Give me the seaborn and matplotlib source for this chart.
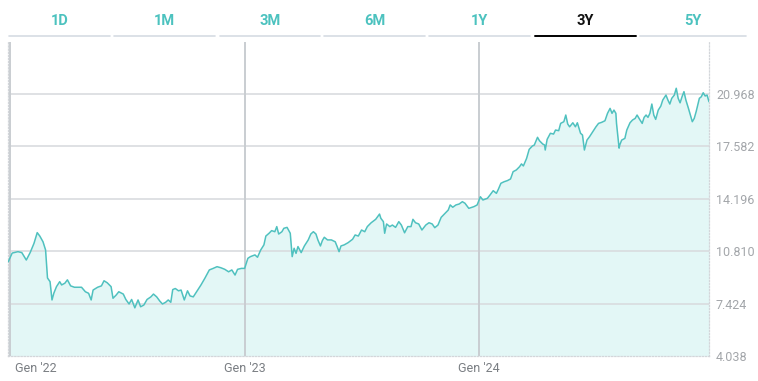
import numpy as np
import pandas as pd
import seaborn as sns
import matplotlib.pyplot as plt
from matplotlib.transforms import ScaledTranslation

# days since 2022-01-01 for each sampled point
days_since_2022 = [
    -3, 3, 12, 18, 25, 31, 37, 42, 46, 51, 55, 58, 62, 65, 68, 72, 77, 80, 85, 89,
    94, 100, 106, 111, 117, 122, 126, 129, 136, 142, 146, 151, 157, 160, 165, 169, 176, 180, 185, 189,
    194, 199, 203, 208, 213, 219, 223, 228, 233, 237, 242, 246, 250, 253, 257, 262, 266, 271, 276, 280,
    285, 291, 297, 303, 310, 316, 322, 328, 334, 340, 345, 350, 354, 360,
    365, 370, 374, 381, 385, 390, 395, 398, 403, 407, 412, 415, 418, 423, 426, 431, 436, 439, 442, 445,
    448, 453, 458, 464, 468, 472, 476, 479, 483, 486, 489, 494, 500, 506, 509, 512, 515, 520, 526, 533,
    537, 542, 547, 552, 556, 562, 569, 575, 577, 581, 583, 586, 591, 595, 600, 605, 609, 614, 619, 624,
    627, 631, 636, 641, 647, 652, 657, 661, 666, 671, 677, 682, 685, 689, 694, 699, 704, 708,
    714, 722, 727, 732, 736, 743, 747, 752, 757, 760, 764, 769, 774, 779, 783, 788, 793, 796, 799, 804,
    808, 813, 816, 821, 824, 829, 832, 833, 836, 841, 846, 849, 854, 857, 862, 865, 868, 871, 876, 880,
    883, 888, 891, 894, 898, 902, 907, 912, 916, 921, 926, 930, 934, 937, 940, 943, 944, 948, 949, 952,
    957, 960, 965, 969, 973, 976, 980, 984, 987, 990, 993, 996, 999, 1002, 1005, 1009, 1013, 1016, 1021, 1024,
    1027, 1030, 1034, 1037, 1040, 1043, 1046, 1049, 1052, 1056, 1059, 1062, 1065, 1068, 1073, 1076, 1079, 1082, 1085, 1088,
]

prices = [
    10.13, 10.69, 10.78, 10.72, 10.24, 10.72, 11.32, 12.01, 11.79, 11.42, 10.89, 9.08, 8.84, 7.66, 8.11, 8.52, 8.84, 8.63, 8.74, 8.96,
    8.57, 8.48, 8.48, 8.48, 8.19, 8.09, 7.66, 8.30, 8.48, 8.57, 8.90, 8.77, 8.52, 7.77, 7.98, 8.19, 8.04, 7.69, 7.40, 7.69,
    7.15, 7.66, 7.22, 7.33, 7.69, 7.86, 8.04, 7.86, 7.58, 7.40, 7.51, 7.66, 7.51, 8.33, 8.40, 8.25, 8.30, 7.66, 8.25, 7.92,
    7.86, 8.25, 8.63, 9.06, 9.60, 9.70, 9.81, 9.74, 9.64, 9.48, 9.60, 9.27, 9.64, 9.70,
    9.70, 10.35, 10.46, 10.57, 10.42, 10.89, 11.22, 11.79, 11.97, 12.14, 12.07, 12.40, 11.92, 12.07, 12.29, 12.35, 11.97, 10.46, 11.00, 10.67,
    11.11, 10.72, 11.15, 11.54, 11.92, 12.07, 11.92, 11.54, 11.15, 11.50, 11.71, 11.54, 11.54, 11.42, 11.11, 10.78, 11.15, 11.22, 11.36, 11.58,
    11.86, 11.79, 12.18, 12.07, 12.40, 12.65, 12.87, 13.21, 12.94, 12.72, 11.97, 12.57, 12.40, 12.50, 12.35, 12.72, 12.50, 12.00, 12.40, 12.40,
    12.87, 12.65, 12.57, 12.18, 12.50, 12.65, 12.57, 12.33, 12.50, 13.00, 13.26, 13.47, 13.80, 13.65, 13.80, 13.86, 14.01, 13.91,
    13.58, 13.69, 13.80, 14.33, 14.12, 14.23, 14.44, 14.72, 14.55, 14.81, 15.20, 15.30, 15.37, 15.48, 15.95, 16.06, 16.27, 16.45, 16.32, 16.81,
    17.39, 17.61, 17.67, 18.17, 17.95, 17.74, 17.67, 17.35, 18.04, 18.43, 18.38, 18.64, 18.60, 19.07, 19.18, 19.61, 19.03, 18.85, 19.11, 18.85,
    19.11, 18.43, 18.32, 17.35, 17.99, 18.21, 18.53, 18.85, 19.07, 19.14, 19.24, 19.72, 20.04, 19.72, 19.93, 19.72, 19.07, 17.47, 17.67, 17.99,
    18.10, 18.64, 19.11, 19.29, 19.39, 19.61, 19.33, 19.07, 19.46, 19.61, 19.46, 19.72, 20.32, 19.61, 19.33, 19.93, 20.19, 20.58, 20.90, 20.58,
    20.32, 20.69, 20.90, 21.34, 20.69, 20.40, 20.79, 21.12, 20.58, 20.04, 19.61, 19.18, 19.39, 19.83, 20.69, 20.79, 21.05, 20.84, 20.90, 20.47,
]

y_ticks = [4.038, 7.424, 10.810, 14.196, 17.582, 20.968]
y_top = 24.33
year_starts = ["2022-01-01", "2023-01-01", "2024-01-01"]
year_labels = ["Gen '22", "Gen '23", "Gen '24"]
tabs = ["1D", "1M", "3M", "6M", "1Y", "3Y", "5Y"]
active_tab = "3Y"

LINE = "#4fc1bf"
FILL = "#e3f7f6"
TEAL_TXT = "#4cc2bf"

df = pd.DataFrame({
    "date": pd.Timestamp("2022-01-01") + pd.to_timedelta(days_since_2022, unit="D"),
    "price": prices,
})

sns.set_style("white")
plt.rcParams["font.family"] = ["Roboto", "DejaVu Sans"]

fig = plt.figure(figsize=(7.58, 3.81), dpi=100)
ax = fig.add_axes([8 / 758, 25 / 381, 701 / 758, 314 / 381])

ax.fill_between(df["date"], df["price"], 4.038, color=FILL, linewidth=0, zorder=1)
sns.lineplot(data=df, x="date", y="price", ax=ax, color=LINE, linewidth=1.1, zorder=3)

ax.set_xlim(df["date"].iloc[0] - pd.Timedelta(days=0.5), df["date"].iloc[-1])
ax.set_ylim(4.038, y_top)

# horizontal grid
for v in y_ticks[1:]:
    ax.axhline(v, color="#d9dcdf", linewidth=1.2, zorder=2)

# year separators
year_dates = pd.to_datetime(year_starts)
for d in year_dates:
    ax.axvline(d, color="#c9cdd1", linewidth=1.4, zorder=2)

# borders: dotted light grey
for side in ["left", "right", "bottom"]:
    ax.spines[side].set_visible(True)
    ax.spines[side].set_color("#d3d6da")
    ax.spines[side].set_linestyle((0, (1, 1.5)))
    ax.spines[side].set_linewidth(0.9)
ax.spines["top"].set_visible(False)

ax.yaxis.tick_right()
ax.set_yticks(y_ticks)
ax.set_yticklabels([f"{v:.3f}" for v in y_ticks])
ax.tick_params(axis="y", length=0, pad=5, labelsize=9, labelcolor="#a3a6aa")

ax.set_xticks(year_dates)
ax.set_xticklabels(year_labels)
ax.tick_params(axis="x", length=0, pad=4, labelsize=9, labelcolor="#7a7e83")
first = ax.get_xticklabels()[0]
first.set_horizontalalignment("left")
first.set_transform(first.get_transform() + ScaledTranslation(5 / 100, 0, fig.dpi_scale_trans))

ax.set_xlabel("")
ax.set_ylabel("")

# period tabs on top
tab_edges = [(9, 110), (114, 215), (220, 320), (324, 425), (429, 530), (535, 636), (640, 746)]
for name, (x0, x1) in zip(tabs, tab_edges):
    is_on = name == active_tab
    fig.text((x0 + x1) / 2 / 758, 1 - 21 / 381, name, ha="center", va="center",
             fontsize=10.5, fontweight="bold", color="#111111" if is_on else TEAL_TXT,
             family=["Liberation Sans Narrow", "Roboto", "DejaVu Sans"])
    fig.add_artist(plt.Line2D([x0 / 758, x1 / 758], [1 - 36 / 381] * 2,
                              color="black" if is_on else "#d5dce3",
                              linewidth=1.4 if is_on else 1.2))

fig.savefig("out.png", dpi=100)
